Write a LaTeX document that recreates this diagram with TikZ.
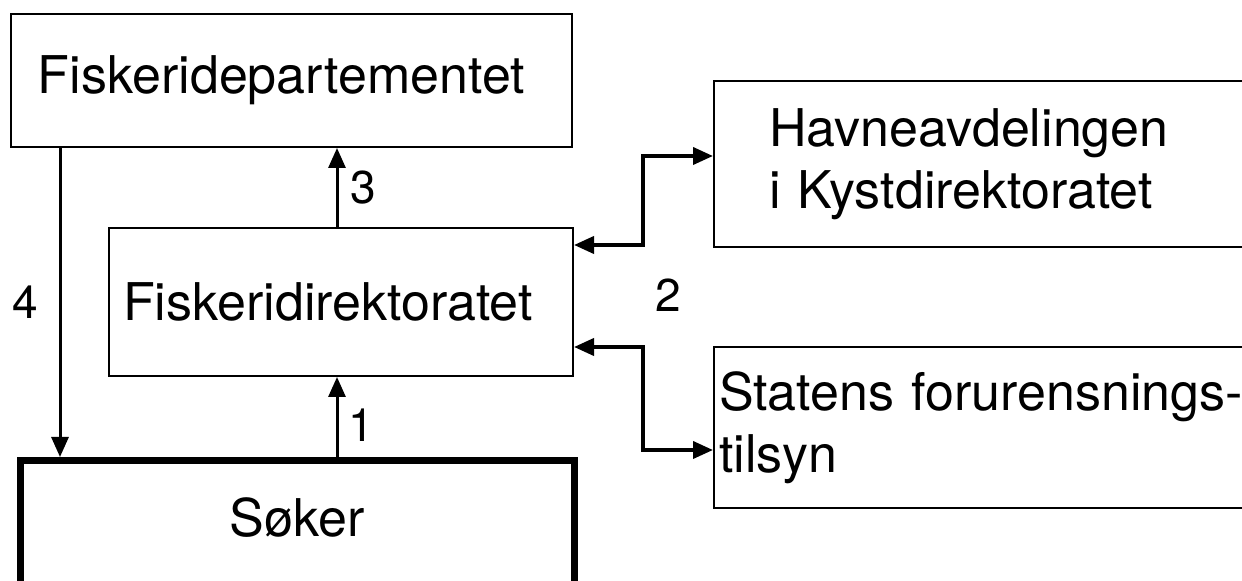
\documentclass[tikz,border=0pt]{standalone}
\usepackage{fontspec}
\setmainfont{TeX Gyre Heros}
\usetikzlibrary{arrows.meta}

\begin{document}
\begin{tikzpicture}[x=0.5pt,y=-0.5pt,
  box/.style={draw, line width=1pt, anchor=north west, inner sep=0pt, font=\fontsize{26}{31}\selectfont},
  arr/.style={line width=1.5pt, -{Triangle[length=10pt,width=8.5pt]}},
  both/.style={line width=1.9pt, {Triangle[length=10pt,width=8.5pt]}-{Triangle[length=10pt,width=8.5pt]}},
  num/.style={font=\fontsize{23}{27}\selectfont, inner sep=0pt}]
\clip (0,0) rectangle (1242,581);

\node[box, minimum width=280.5pt, minimum height=66.5pt, text width=253.5pt, align=left] (dep) at (10,13) {Fiskeridepartementet};
\node[box, minimum width=232pt, minimum height=74pt, text width=218pt, align=left] (dir) at (108,227) {Fiskeridirektoratet};
\node[box, minimum width=300pt, minimum height=83pt, text width=245pt, align=left] (havn) at (713,80) {Havneavdelingen\\i Kystdirektoratet};
\node[box, minimum width=300pt, minimum height=80.5pt, text width=295pt, align=left] (sft) at (713,346) {Statens forurensnings-\\tilsyn};
\node[box, line width=3.5pt, minimum width=277.25pt, minimum height=80pt, text depth=23.5pt] (sok) at (16.5,457) {Søker};

\coordinate (bus) at (643,300);

\draw[arr] ([xshift=-2pt]dir.south |- sok.north) -- node[num, pos=0.4, right=5pt] {1} ([xshift=-2pt]dir.south);
\draw[arr] ([xshift=-2pt]dir.north) -- node[num, right=6pt] {3} ([xshift=-2pt]dir.north |- dep.south);
\draw[arr] ([xshift=25pt]dep.south west) -- node[num, left=10pt] {4} ([xshift=25pt]dep.south west |- sok.north);

\draw[both] ([yshift=-9pt]dir.north east) -- ([yshift=-9pt]dir.north east -| bus) |- ([yshift=-38pt]havn.north west);
\draw[both] ([yshift=15pt]dir.south east) -- ([yshift=15pt]dir.south east -| bus) |- ([yshift=-52pt]sft.north west);
\node[num] (two) at (668,295) {2};

\end{tikzpicture}
\end{document}
